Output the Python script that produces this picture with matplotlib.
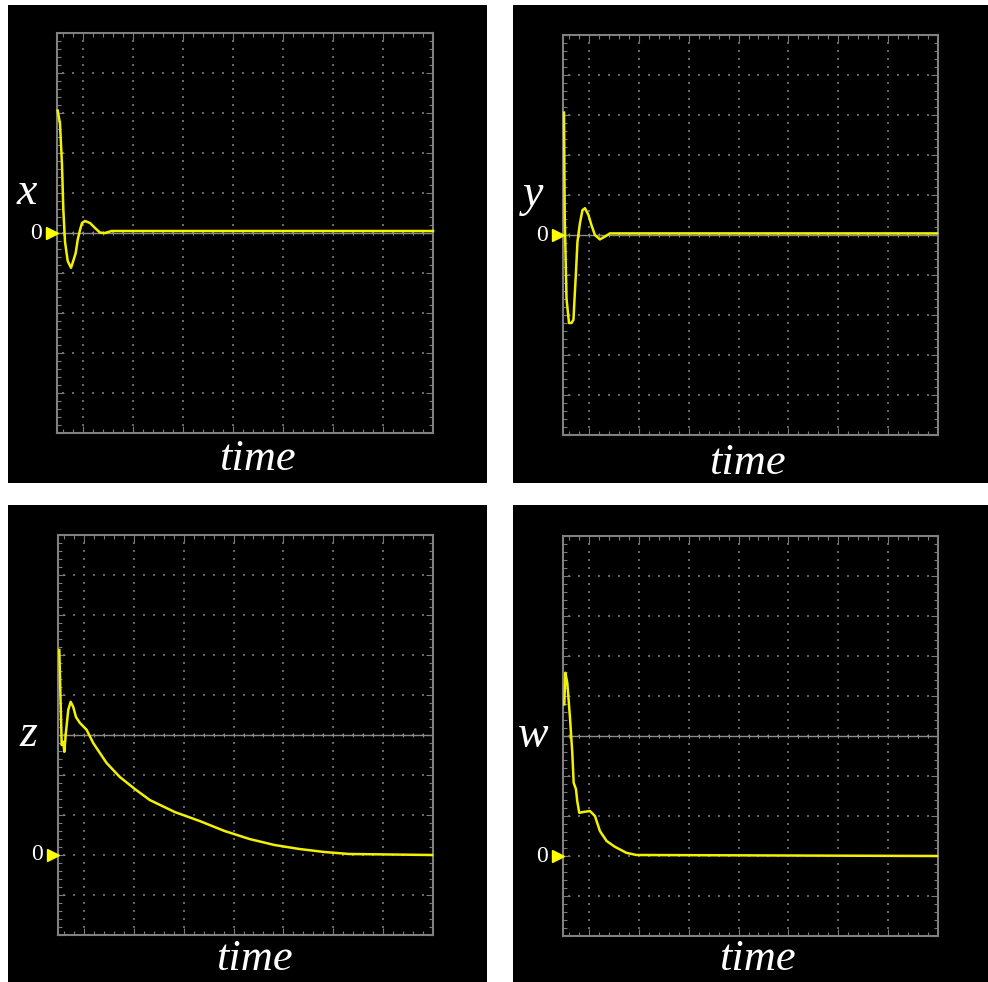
import numpy as np
import matplotlib
matplotlib.use('Agg')
import matplotlib.pyplot as plt
from matplotlib.patches import Rectangle

# Traces in screen divisions (time axis: 50 px/div, amplitude: 40 px/div)
x_time = [0.014, 0.06, 0.1, 0.126, 0.16, 0.214, 0.28, 0.32, 0.374, 0.414, 0.46,
          0.5, 0.56, 0.66, 0.76, 0.86, 0.96, 1.09, 7.52]
x_vals = [3.06, 2.73, 1.7, 0.6, -0.22, -0.7, -0.87, -0.72, -0.5, -0.17, 0.075,
          0.25, 0.3, 0.25, 0.125, 0.01, 0.0, 0.05, 0.05]

y_time = [0.02, 0.034, 0.07, 0.12, 0.17, 0.21, 0.23, 0.26, 0.29, 0.34, 0.39,
          0.44, 0.51, 0.57, 0.64, 0.74, 0.84, 0.94, 7.5]
y_vals = [3.06, 0.5, -1.58, -2.2, -2.2, -2.12, -1.62, -0.93, -0.17, 0.3, 0.62,
          0.67, 0.5, 0.25, 0.0, -0.11, -0.04, 0.04, 0.04]

z_time = [0.026, 0.046, 0.074, 0.106, 0.126, 0.16, 0.206, 0.254, 0.306, 0.36,
          0.44, 0.574, 0.706, 0.974, 1.24, 1.54, 1.84, 2.34, 2.84, 3.34, 3.84,
          4.34, 4.84, 5.34, 5.84, 7.5]
z_vals = [5.125, 4.125, 2.75, 2.83, 2.58, 3.08, 3.63, 3.83, 3.7, 3.45,
          3.3, 3.13, 2.8, 2.3, 1.95, 1.65, 1.375, 1.075, 0.85, 0.6, 0.4,
          0.25, 0.15, 0.075, 0.025, 0.0]

w_time = [0.026, 0.046, 0.086, 0.14, 0.186, 0.214, 0.26, 0.286, 0.326, 0.406,
          0.54, 0.64, 0.74, 0.874, 1.04, 1.27, 1.47, 7.5]
w_vals = [3.79, 4.58, 4.33, 3.46, 2.58, 1.83, 1.67, 1.37, 1.08, 1.1,
          1.125, 1.0, 0.625, 0.375, 0.23, 0.08, 0.025, 0.0]

labels = ['x', 'y', 'z', 'w']
zero_div = [5, 5, 2, 2]   # divisions between bottom edge and the 0 marker

W, H = 988, 982
fig = plt.figure(figsize=(W / 100, H / 100), dpi=100, facecolor='white')

def fx(px):
    return px / W

def fy(py):
    return 1 - py / H

# black panels and plot areas, in pixels (left, top, right, bottom)
panels = [(8, 5, 487, 483), (513, 5, 988, 483), (8, 505, 487, 982), (513, 505, 988, 982)]
screens = [(57, 33, 433, 433), (563, 35, 938, 435), (58, 535, 433, 935), (563, 536, 938, 936)]
# "time" caption centres, in pixels
time_pos = [(257, 459), (747, 463), (254, 959), (757, 959)]

XMAX = 7.52
grid_x = np.arange(0.52, XMAX - 0.1, 1.0)
grid_c = '#666666'
trace_c = '#f2f200'

series = [(x_time, x_vals), (y_time, y_vals), (z_time, z_vals), (w_time, w_vals)]

for i in range(4):
    l, t, r, b = panels[i]
    fig.add_artist(Rectangle((fx(l), fy(b)), fx(r - l), (b - t) / H,
                             transform=fig.transFigure, facecolor='black',
                             edgecolor='none', zorder=0))
    sl, st, sr, sb = screens[i]
    ax = fig.add_axes([fx(sl), fy(sb), fx(sr - sl), (sb - st) / H])
    ax.set_facecolor('black')
    z0 = zero_div[i]
    ax.set_xlim(0, XMAX)
    ax.set_ylim(-z0, 10 - z0)

    # dotted graticule
    yv = np.arange(-z0 + 0.2, 10 - z0 - 0.1, 0.2)
    for gx in grid_x:
        ax.scatter(np.full(len(yv), gx), yv, s=1.2, marker='s', color=grid_c,
                   linewidths=0, zorder=1)
    xh = np.arange(0.12, XMAX - 0.05, 0.2)
    for gy in range(-z0 + 1, 10 - z0):
        ax.scatter(xh, np.full(len(xh), gy), s=1.2, marker='s', color=grid_c,
                   linewidths=0, zorder=1)

    # centre line with small ticks
    cy = 5 - z0
    ax.axhline(cy, color='#8a8a8a', lw=1.0, zorder=2)
    ax.scatter(xh, np.full(len(xh), cy), s=12, marker='|', color='#8a8a8a',
               linewidths=0.8, zorder=2)

    ax.set_xticks(grid_x)
    ax.set_xticks(np.arange(0.12, XMAX, 0.2), minor=True)
    ax.set_yticks(np.arange(-z0, 10 - z0 + 0.5, 1))
    ax.set_yticks(np.arange(-z0, 10 - z0 + 0.1, 0.2), minor=True)
    ax.tick_params(which='both', direction='in', colors='#7a7a7a',
                   top=True, right=True, labelbottom=False, labelleft=False)
    ax.tick_params(which='major', length=5, width=0.8)
    ax.tick_params(which='minor', length=3, width=0.8)
    for sp in ax.spines.values():
        sp.set_color('#808080')
        sp.set_linewidth(1.5)

    tt, vv = series[i]
    ax.plot(tt, vv, color=trace_c, lw=1.8, zorder=5, clip_on=False)

    # zero marker and labels
    ax.plot([-0.1], [0], marker='>', color='#ffff00', markersize=9,
            clip_on=False, zorder=6)
    ax.text(-0.42, 0, '0', color='white', fontsize=17, family='Liberation Serif',
            ha='center', va='center', transform=ax.transData)
    ax.text(-0.6, 5 - z0 + 1.0 if i < 2 else 5 - z0, labels[i], color='white',
            fontsize=33, family='Liberation Serif', style='italic',
            ha='center', va='center')
    px, py = time_pos[i]
    fig.text(fx(px), fy(py), 'time', color='white', fontsize=32,
             family='Liberation Serif', style='italic',
             ha='center', va='center')

fig.savefig('out.png', dpi=100, facecolor='white')
